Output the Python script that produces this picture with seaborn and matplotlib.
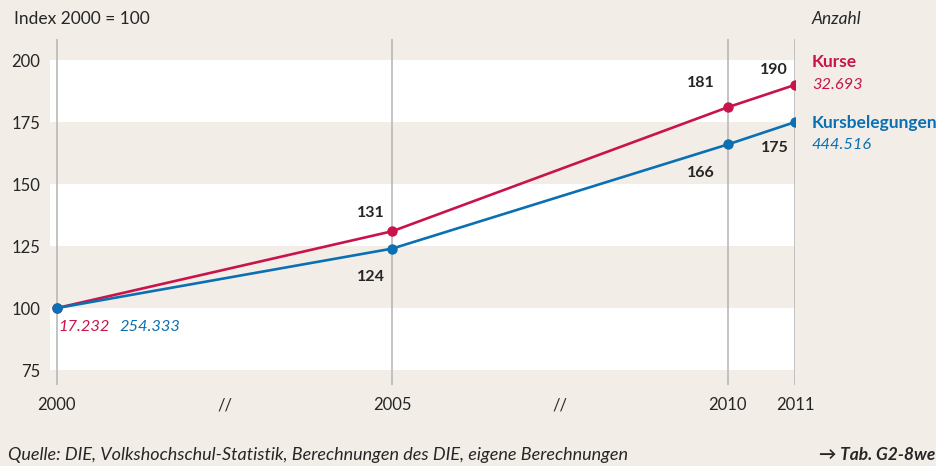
import matplotlib
matplotlib.use("Agg")
import matplotlib.pyplot as plt
import seaborn as sns
import pandas as pd

# --- data -------------------------------------------------------------
years = [2000, 2005, 2010, 2011]
kurse = [100, 131, 181, 190]
kursbelegungen = [100, 124, 166, 175]
series_names = ["Kurse", "Kursbelegungen"]
count_2000 = ["17.232", "254.333"]
count_2011 = ["32.693", "444.516"]
y_ticks = [75, 100, 125, 150, 175, 200]
break_ticks = [2002.5, 2007.5]

RED = "#c8144b"
BLUE = "#0b70b3"
BG = "#f2eee7"
GRID = "#b9b9b9"
TEXT = "#262626"

# font sizes
FS_TICK = 12
FS_VAL = 11.5
FS_NUM = 11.8
FS_TXT = 12.5
FS_SRC = 13

df = pd.DataFrame({
    "Jahr": years * 2,
    "Index": kurse + kursbelegungen,
    "Reihe": [series_names[0]] * len(years) + [series_names[1]] * len(years),
})

sns.set_theme(style="white")
plt.rcParams["font.family"] = ["Lato", "DejaVu Sans"]
plt.rcParams["text.color"] = TEXT

fig = plt.figure(figsize=(9.37, 4.66), dpi=100, facecolor=BG)
ax = fig.add_axes([50 / 937, 1 - 385 / 466, 745 / 937, 346 / 466])
ax.set_facecolor(BG)

# alternating white bands
for lo in (75, 125, 175):
    ax.axhspan(lo, lo + 25, color="white", lw=0, zorder=0)

# vertical year lines
for yr in years:
    ax.axvline(yr, color=GRID, lw=1.2, zorder=1)

sns.lineplot(data=df, x="Jahr", y="Index", hue="Reihe",
             palette={series_names[0]: RED, series_names[1]: BLUE},
             marker="o", markersize=7.5, markeredgewidth=0, lw=1.9,
             legend=False, ax=ax, zorder=3)

ax.set_xlim(1999.9, 2011)
ax.set_ylim(69, 208.5)
for s in ax.spines.values():
    s.set_visible(False)

ax.set_yticks(y_ticks)
ax.set_yticklabels([str(v) for v in y_ticks])
xt = years[:1] + break_ticks[:1] + years[1:2] + break_ticks[1:] + years[2:]
ax.set_xticks(xt)
ax.set_xticklabels([("//" if v in break_ticks else str(int(v))) for v in xt])
ax.tick_params(axis="both", length=0, labelsize=FS_TICK, labelcolor=TEXT)
ax.tick_params(axis="x", pad=9)
ax.tick_params(axis="y", pad=7)
ax.set_xlabel("")
ax.set_ylabel("")

# value labels at the points
label_style = dict(textcoords="offset pixels", fontsize=FS_VAL, fontweight="bold",
                   color=TEXT, ha="center", va="center")
offsets_k = [None, (-21, 18), (-27, 24), (-21, 15)]
offsets_b = [None, (-21, -28), (-27, -29), (-20, -26)]
for i in range(1, len(years)):
    ax.annotate(str(kurse[i]), (years[i], kurse[i]), xytext=offsets_k[i], **label_style)
    ax.annotate(str(kursbelegungen[i]), (years[i], kursbelegungen[i]),
                xytext=offsets_b[i], **label_style)

# absolute counts in 2000
ax.annotate(count_2000[0], (years[0], kurse[0]), xytext=(2, -19),
            textcoords="offset pixels", fontsize=FS_NUM, style="italic",
            color=RED, ha="left", va="center")
ax.annotate(count_2000[1], (years[0], kurse[0]), xytext=(63, -19),
            textcoords="offset pixels", fontsize=FS_NUM, style="italic",
            color=BLUE, ha="left", va="center")

# series names and counts in 2011
end = dict(textcoords="offset pixels", ha="left", va="center",
           annotation_clip=False)
ax.annotate(series_names[0], (years[-1], kurse[-1]), xytext=(17, 23),
            fontsize=FS_TXT, fontweight="bold", color=RED, **end)
ax.annotate(count_2011[0], (years[-1], kurse[-1]), xytext=(17, 0),
            fontsize=FS_NUM, style="italic", color=RED, **end)
ax.annotate(series_names[1], (years[-1], kursbelegungen[-1]), xytext=(17, -1),
            fontsize=FS_TXT, fontweight="bold", color=BLUE, **end)
ax.annotate(count_2011[1], (years[-1], kursbelegungen[-1]), xytext=(17, -23),
            fontsize=FS_NUM, style="italic", color=BLUE, **end)

# header and footer texts
fig.text(14 / 937, 1 - 19 / 466, "Index 2000 = 100", fontsize=FS_TXT,
         ha="left", va="center", color=TEXT)
fig.text(812 / 937, 1 - 19 / 466, "Anzahl", fontsize=FS_TXT, style="italic",
         ha="left", va="center", color=TEXT)
fig.text(8 / 937, 1 - 455 / 466,
         "Quelle: DIE, Volkshochschul-Statistik, Berechnungen des DIE, eigene Berechnungen",
         fontsize=FS_SRC, style="italic", ha="left", va="center", color=TEXT)
fig.text(935 / 937, 1 - 455 / 466, "→ Tab. G2-8we", fontsize=FS_TXT,
         style="italic", fontweight="bold", ha="right", va="center", color=TEXT)

fig.savefig("out.png", dpi=100, facecolor=BG)
